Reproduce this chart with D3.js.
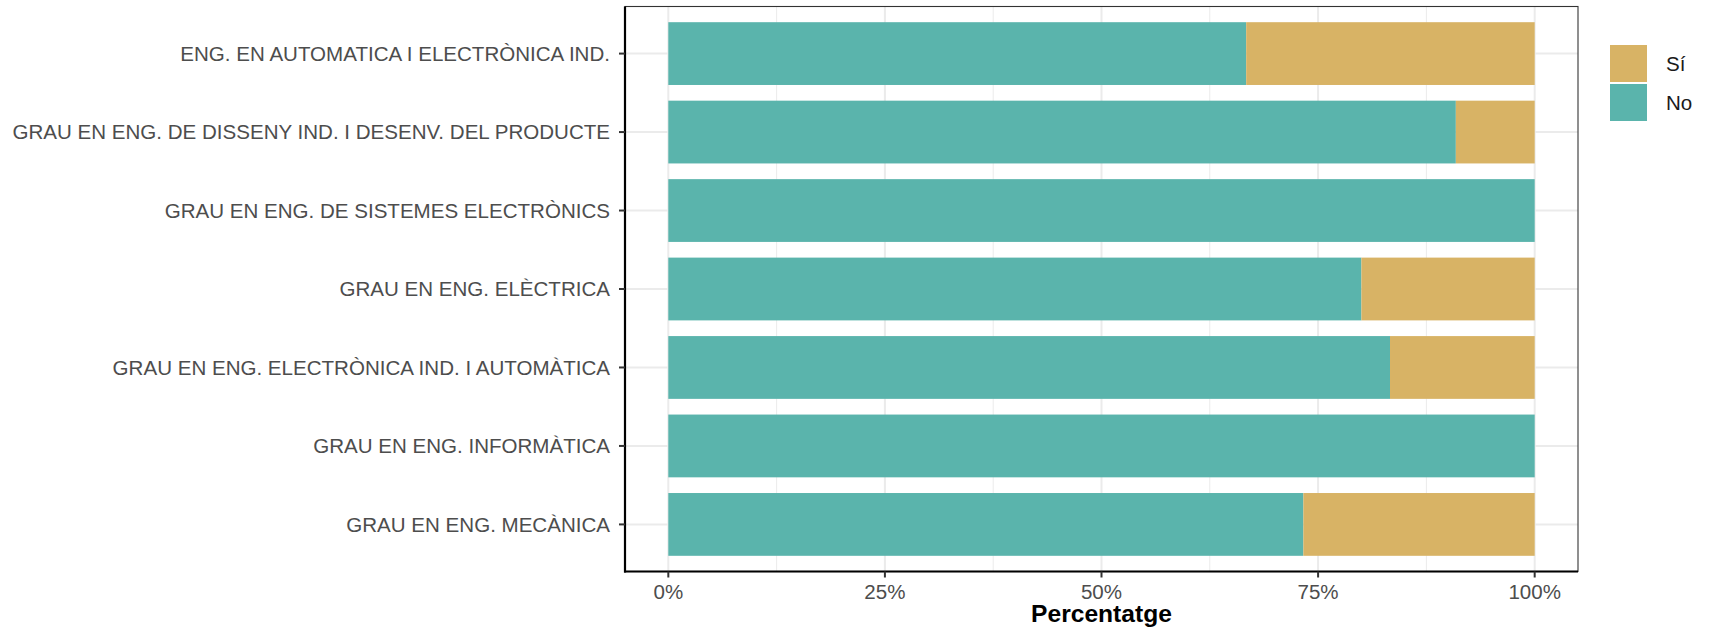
<!DOCTYPE html>
<html>
<head>
<meta charset="utf-8">
<script src="https://cdn.jsdelivr.net/npm/d3@7"></script>
<style>
  html, body { margin: 0; padding: 0; background: #fff; }
  svg { display: block; font-family: "Liberation Sans", Arial, sans-serif; }
</style>
</head>
<body>
<svg id="chart" width="1709" height="632"></svg>
<script>
const categories = [
  "ENG. EN AUTOMATICA I ELECTRÒNICA IND.",
  "GRAU EN ENG. DE DISSENY IND. I DESENV. DEL PRODUCTE",
  "GRAU EN ENG. DE SISTEMES ELECTRÒNICS",
  "GRAU EN ENG. ELÈCTRICA",
  "GRAU EN ENG. ELECTRÒNICA IND. I AUTOMÀTICA",
  "GRAU EN ENG. INFORMÀTICA",
  "GRAU EN ENG. MECÀNICA"
];
const noValues = [66.7, 90.9, 100, 80.0, 83.3, 100, 73.3];
const siValues = [33.3, 9.1, 0, 20.0, 16.7, 0, 26.7];
const seriesNames = ["Sí", "No"];
const seriesColors = ["#d8b365", "#5ab4ac"];
const xTicks = [0, 25, 50, 75, 100];
const xTickLabels = ["0%", "25%", "50%", "75%", "100%"];
const xMinor = [12.5, 37.5, 62.5, 87.5];
const xTitle = "Percentatge";

const svg = d3.select("#chart");
const P = { left: 625, right: 1578, top: 6.5, bottom: 571.5 };
const FS = 20.55;

const x = d3.scaleLinear().domain([-5, 105]).range([P.left, P.right]);
const y = d3.scaleBand().domain(categories).range([P.top, P.bottom])
  .paddingInner(0.2).paddingOuter(0.2);

const g = svg.append("g");

// grid
g.selectAll(".minor").data(xMinor).join("line")
  .attr("x1", d => x(d)).attr("x2", d => x(d))
  .attr("y1", P.top).attr("y2", P.bottom)
  .attr("stroke", "#ebebeb").attr("stroke-width", 1);
g.selectAll(".majorx").data(xTicks).join("line")
  .attr("x1", d => x(d)).attr("x2", d => x(d))
  .attr("y1", P.top).attr("y2", P.bottom)
  .attr("stroke", "#ebebeb").attr("stroke-width", 2);
g.selectAll(".majory").data(categories).join("line")
  .attr("x1", P.left).attr("x2", P.right)
  .attr("y1", d => y(d) + y.bandwidth() / 2).attr("y2", d => y(d) + y.bandwidth() / 2)
  .attr("stroke", "#ebebeb").attr("stroke-width", 2);

// bars
const rows = categories.map((c, i) => ({ c, no: noValues[i], si: siValues[i] }));
g.selectAll(".no").data(rows).join("rect")
  .attr("x", x(0)).attr("y", d => y(d.c))
  .attr("width", d => x(d.no) - x(0)).attr("height", y.bandwidth())
  .attr("fill", seriesColors[1]);
g.selectAll(".si").data(rows.filter(d => d.si > 0)).join("rect")
  .attr("x", d => x(d.no)).attr("y", d => y(d.c))
  .attr("width", d => x(d.no + d.si) - x(d.no)).attr("height", y.bandwidth())
  .attr("fill", seriesColors[0]);

// panel border
g.append("rect").attr("x", P.left).attr("y", P.top)
  .attr("width", P.right - P.left).attr("height", P.bottom - P.top)
  .attr("fill", "none").attr("stroke", "#333333").attr("stroke-width", 1.1);
// axis lines
g.append("line").attr("x1", P.left).attr("x2", P.left).attr("y1", P.top).attr("y2", P.bottom + 1)
  .attr("stroke", "#000").attr("stroke-width", 2.2);
g.append("line").attr("x1", P.left - 1).attr("x2", P.right).attr("y1", P.bottom).attr("y2", P.bottom)
  .attr("stroke", "#000").attr("stroke-width", 2.2);

// y axis ticks and labels
categories.forEach(c => {
  const cy = y(c) + y.bandwidth() / 2;
  g.append("line").attr("x1", P.left - 6).attr("x2", P.left).attr("y1", cy).attr("y2", cy)
    .attr("stroke", "#333333").attr("stroke-width", 2);
  g.append("text").attr("x", 610).attr("y", cy).attr("dy", "0.35em")
    .attr("text-anchor", "end").attr("font-size", FS).attr("fill", "#4d4d4d").text(c);
});

// x axis ticks and labels
xTicks.forEach((t, i) => {
  g.append("line").attr("x1", x(t)).attr("x2", x(t)).attr("y1", P.bottom).attr("y2", P.bottom + 6)
    .attr("stroke", "#333333").attr("stroke-width", 2);
  g.append("text").attr("x", x(t)).attr("y", 599)
    .attr("text-anchor", "middle").attr("font-size", FS).attr("fill", "#4d4d4d").text(xTickLabels[i]);
});

// x title
g.append("text").attr("x", (P.left + P.right) / 2).attr("y", 622)
  .attr("text-anchor", "middle").attr("font-size", 24.6).attr("font-weight", "bold")
  .attr("fill", "#000").text(xTitle);

// legend
const lg = svg.append("g");
seriesNames.forEach((s, i) => {
  const ky = 45 + i * 39;
  lg.append("rect").attr("x", 1610).attr("y", ky).attr("width", 37).attr("height", 37)
    .attr("fill", seriesColors[i]);
  lg.append("text").attr("x", 1666).attr("y", ky + 18.5).attr("dy", "0.35em")
    .attr("font-size", FS).attr("fill", "#1a1a1a").text(s);
});
</script>
</body>
</html>
